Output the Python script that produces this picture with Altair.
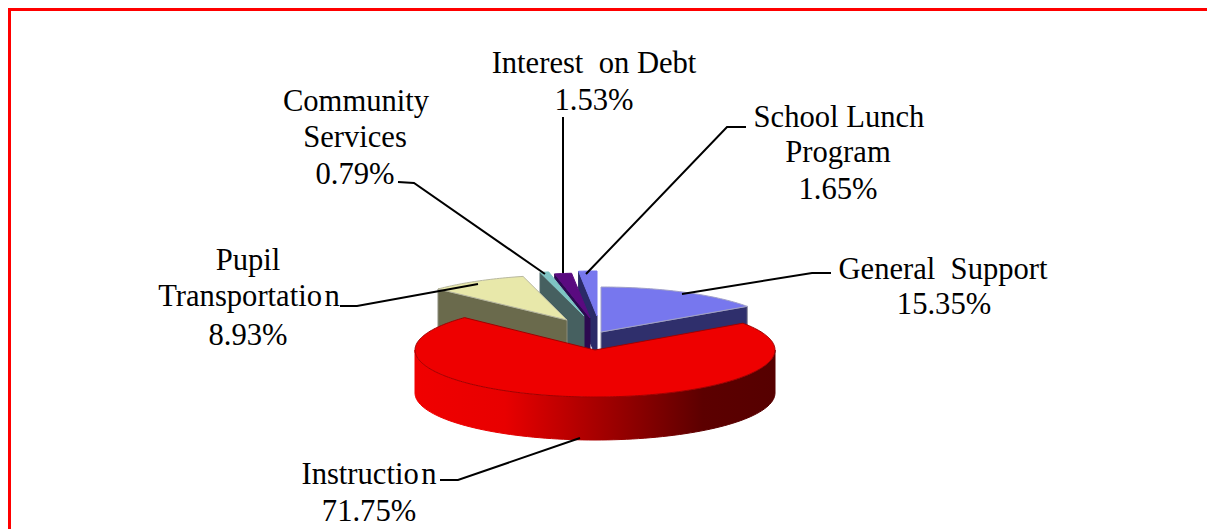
import math
import altair as alt
import pandas as pd

names = ["General Support", "Instruction", "Pupil Transportation", "Community Services", "Interest on Debt", "School Lunch Program"]
shares = [15.35, 71.75, 8.93, 0.79, 1.53, 1.65]
top_colors = ["#7777ee", "#ee0000", "#e8e8aa", "#7fc4c4", "#5a0a80", "#7777ee"]
wall_colors = ["#2f2f6c", "#a00000", "#6a6a4c", "#466060", "#2c0a50", "#2a2a68"]
apex_x = [601, 595, 567, 584, 590, 597]
apex_y = [332, 350, 320, 316, 318, 316]
radius_x = [178, 180, 178, 178, 178, 178]
radius_y = [45, 47, 45, 45, 45, 45]

label_lines = ["Interest\u00a0 on Debt", "1.53%", "Community", "Services", "0.79%", "School Lunch", "Program", "1.65%",
               "General\u00a0 Support", "15.35%", "Pupil", "Transportatio\u200an", "8.93%", "Instructio\u200an", "71.75%"]
label_x = [594, 594, 356, 355, 355, 839, 838, 838, 943, 944, 248, 249, 248, 369, 369]
label_y = [73, 110, 111, 147, 184, 127, 162, 199, 279, 314, 270, 306, 345, 484, 521]

leader_x = [[563, 563], [746, 727, 586], [831, 812, 682], [398, 414, 545], [340, 357, 478], [440, 458, 580]]
leader_y = [[117, 273], [127, 127, 274], [273, 273, 294], [182, 183, 274], [306, 306, 284], [480, 480, 438]]

DEPTH = 43
X = alt.X("x:Q", axis=None, scale=alt.Scale(domain=[8, 1207], nice=False, zero=False))
Y = alt.Y("y:Q", axis=None, scale=alt.Scale(domain=[8, 529], reverse=True, nice=False, zero=False))


def rim(i, t):
    r = math.radians(t)
    return apex_x[i] + radius_x[i] * math.sin(r), apex_y[i] - radius_y[i] * math.cos(r)


def poly(pts, fill, stroke=None):
    df = pd.DataFrame({"x": [p[0] for p in pts], "y": [p[1] for p in pts], "i": range(len(pts))})
    return alt.Chart(df).mark_line(filled=True, fill=fill, stroke=stroke or fill,
                                   strokeWidth=1, interpolate="linear").encode(x=X, y=Y, order=alt.Order("i:Q"))


edges = [0]
for s in shares:
    edges.append(edges[-1] + s * 3.6)


def top(i):
    a, b = edges[i], edges[i + 1]
    n = max(3, int(b - a))
    pts = [(apex_x[i], apex_y[i])] + [rim(i, a + (b - a) * k / n) for k in range(n + 1)]
    return pts + [pts[0]]


def cut(i, t):
    p = (apex_x[i], apex_y[i])
    q = rim(i, t)
    return [p, q, (q[0], q[1] + DEPTH), (p[0], p[1] + DEPTH), p]


def outer(i, a, b):
    up = [rim(i, a + (b - a) * k / 90) for k in range(91)]
    return up + [(x, y + DEPTH) for x, y in reversed(up)] + [up[0]]


red_grad = alt.LinearGradient(gradient="linear", x1=0, x2=1, y1=0, y2=0, stops=[
    alt.GradientStop(offset=0, color="#f00000"), alt.GradientStop(offset=0.25, color="#e80000"),
    alt.GradientStop(offset=0.5, color="#a80000"), alt.GradientStop(offset=0.8, color="#5c0000"),
    alt.GradientStop(offset=1, color="#560000")])

layers = [
    poly(cut(0, edges[1]), wall_colors[0], "#8a8a9a"),
    poly(top(0), top_colors[0], "#a0a0c8"),
    poly(cut(5, edges[5]), wall_colors[5]),
    poly(top(5), top_colors[5]),
    poly(cut(4, edges[4]), wall_colors[4]),
    poly(cut(3, edges[3]), wall_colors[3]),
    poly(top(3), top_colors[3]),
    poly(cut(2, edges[2]), wall_colors[2], "#8a8a78"),
    poly(top(2), top_colors[2], "#b8b8a0"),
    poly(top(4), top_colors[4]),
    poly(outer(1, 90, 270), red_grad),
    poly(top(1), top_colors[1], "#a00000"),
]

for xs, ys in zip(leader_x, leader_y):
    df = pd.DataFrame({"x": xs, "y": ys, "i": range(len(xs))})
    layers.append(alt.Chart(df).mark_line(color="black", strokeWidth=2).encode(x=X, y=Y, order=alt.Order("i:Q")))

labels = pd.DataFrame({"t": label_lines, "x": label_x, "y": label_y})
layers.append(alt.Chart(labels).mark_text(font="Liberation Serif", fontSize=30.6, color="black", baseline="alphabetic",
                                          align="center").encode(x=X, y=Y, text="t:N"))

border = pd.DataFrame({"x": [8], "x2": [1207], "y": [9.5], "y3": [529]})
layers.append(alt.Chart(border).mark_rule(color="#ff0000", strokeWidth=3).encode(x=X, x2="x2:Q", y=Y))
layers.append(alt.Chart(border).mark_rule(color="#ff0000", strokeWidth=3).encode(x=alt.value(1.5), y=Y, y2="y3:Q"))

chart = alt.layer(*layers).properties(width=1199, height=521, padding=0, autosize=alt.AutoSizeParams(type="none"),
                                      background="white").configure_view(stroke=None)
chart.save("out.html", embed_options={"renderer": "svg", "actions": False})
